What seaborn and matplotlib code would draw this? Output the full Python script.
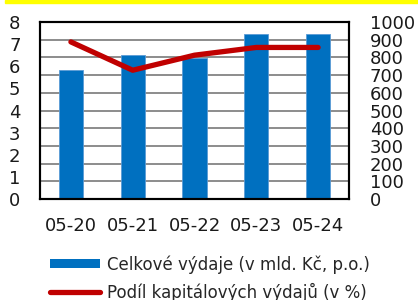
import numpy as np
import pandas as pd
import matplotlib
matplotlib.use('Agg')
import matplotlib.pyplot as plt
from matplotlib.patches import Rectangle
from matplotlib.lines import Line2D
import seaborn as sns

# Donnees
periods = ['05-20', '05-21', '05-22', '05-23', '05-24']
total_exp = [731, 812, 797, 934, 934]        # mld. Kc (axe droit)
capital_share = [7.10, 5.82, 6.50, 6.85, 6.85]  # % (axe gauche)

BLUE = '#0070C0'
RED = '#C00000'
GRID = '#8C8C8C'

sns.set_theme(style='white')
plt.rcParams['font.family'] = ['DejaVu Sans']

df = pd.DataFrame({'period': periods, 'total': total_exp, 'share': capital_share})

fig = plt.figure(figsize=(4.18, 3.0), dpi=100)
ax = fig.add_axes([40 / 418, 1 - 199 / 300, 309 / 418, 177 / 300])

# Barres — axe droit (0..1000)
sns.barplot(data=df, x='period', y='total', color=BLUE, width=0.39,
            saturation=1, edgecolor='#5B9BD5', linewidth=0.6, ax=ax, zorder=2)
ax.set_ylim(0, 1000)
ax.set_yticks(np.arange(0, 1001, 100))
ax.grid(axis='y', color=GRID, lw=1.4, zorder=0)
ax.set_axisbelow(True)
ax.set_xlabel('')
ax.set_ylabel('')

# Ligne — axe gauche (0..8)
ax2 = ax.twinx()
ax2.plot(np.arange(len(periods)), df['share'], color=RED, lw=3.8,
         solid_capstyle='round', solid_joinstyle='round', zorder=3)
ax2.set_ylim(0, 8)
ax2.set_yticks(np.arange(0, 9, 1))
ax2.set_xlim(-0.5, len(periods) - 0.5)
ax.set_xlim(-0.5, len(periods) - 0.5)

# twinx remet les ticks : barres a droite, ligne a gauche
ax.yaxis.tick_right()
ax2.yaxis.tick_left()

for a in (ax, ax2):
    for s in a.spines.values():
        s.set_visible(True)
        s.set_color('black')
        s.set_linewidth(1.5)
    a.tick_params(axis='both', length=0, labelsize=13, colors='#1a1a1a')
ax.tick_params(axis='y', pad=15)
ax2.tick_params(axis='y', pad=14)
ax.tick_params(axis='x', pad=13)

# Bandeau jaune en haut
fig.patches.append(Rectangle((5 / 418, 1 - 3 / 300), 1, 3 / 300,
                             transform=fig.transFigure, color='#FFFF00', zorder=0))

handles = [Rectangle((0, 0), 1, 1, facecolor=BLUE, edgecolor='none'),
           Line2D([0], [0], color=RED, lw=3.8, solid_capstyle='round')]
labels = ['Celkové výdaje (v mld. Kč, p.o.)', 'Podíl kapitálových výdajů (v %)']
fig.legend(handles, labels, loc='upper left', bbox_to_anchor=(50 / 418, 1 - 255 / 300),
           frameon=False, fontsize=12, handlelength=3.0, handleheight=0.5,
           handletextpad=0.4, borderaxespad=0, borderpad=0, labelspacing=0.55)

fig.savefig('out.png', dpi=100)
